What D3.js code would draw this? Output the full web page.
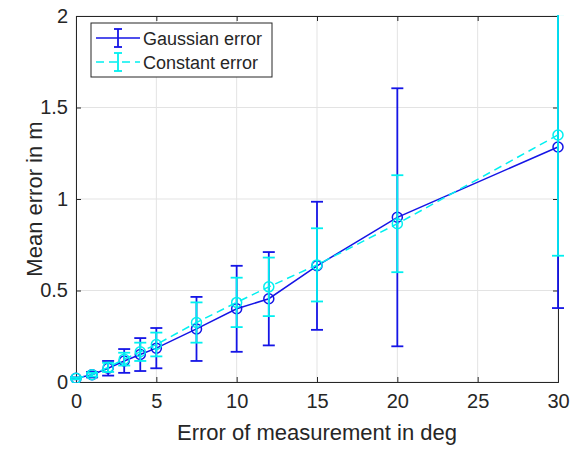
<!DOCTYPE html>
<html>
<head>
<meta charset="utf-8">
<script src="https://cdn.jsdelivr.net/npm/d3@7"></script>
<style>
  body { margin: 0; background: #fff; }
  text { font-family: "Liberation Sans", Arial, sans-serif; fill: #262626; }
</style>
</head>
<body>
<div id="chart"></div>
<script>
// measurement error (deg)
var errDeg = [0, 1, 2, 3, 4, 5, 7.5, 10, 12, 15, 20, 30];

// Gaussian error: mean and half-width of the error bar
var gaussMean = [0.02, 0.04, 0.075, 0.115, 0.15, 0.185, 0.29, 0.40, 0.455, 0.635, 0.90, 1.284];
var gaussErr  = [0.005, 0.015, 0.04, 0.065, 0.09, 0.11, 0.175, 0.235, 0.255, 0.35, 0.705, 0.88];

// Constant error
var constMean = [0.02, 0.04, 0.08, 0.125, 0.165, 0.205, 0.325, 0.435, 0.52, 0.64, 0.865, 1.35];
var constErr  = [0.005, 0.01, 0.025, 0.035, 0.05, 0.065, 0.11, 0.135, 0.16, 0.2, 0.265, 0.66];

var xTicks = [0, 5, 10, 15, 20, 25, 30];
var yTicks = [0, 0.5, 1, 1.5, 2];

let margin = {top: 16, right: 12, bottom: 70, left: 76},
    width = 570 - margin.left - margin.right,
    height = 452 - margin.top - margin.bottom;

let svg = d3.select("#chart").append("svg")
    .attr("width", 570)
    .attr("height", 452);

let g = svg.append("g")
    .attr("transform", "translate(" + margin.left + "," + margin.top + ")");

let x = d3.scaleLinear().domain([0, 30]).range([0, width]);
let y = d3.scaleLinear().domain([0, 2]).range([height, 0]);

// grid
g.append("g").selectAll("line").data(xTicks).enter().append("line")
    .attr("x1", d => x(d)).attr("x2", d => x(d))
    .attr("y1", 0).attr("y2", height)
    .attr("stroke", "#e3e3e3").attr("stroke-width", 1);
g.append("g").selectAll("line").data(yTicks).enter().append("line")
    .attr("y1", d => y(d)).attr("y2", d => y(d))
    .attr("x1", 0).attr("x2", width)
    .attr("stroke", "#e3e3e3").attr("stroke-width", 1);

// axes (ticks inward, box on)
let xAxis = d3.axisBottom(x).tickValues(xTicks).tickSize(-5).tickPadding(12).tickFormat(d3.format("~g"));
let yAxis = d3.axisLeft(y).tickValues(yTicks).tickSize(-5).tickPadding(8).tickFormat(d3.format("~g"));

let xg = g.append("g").attr("transform", "translate(0," + height + ")").call(xAxis);
let yg = g.append("g").call(yAxis);
let xgTop = g.append("g").call(d3.axisTop(x).tickValues(xTicks).tickSize(-5).tickFormat(""));
let ygRight = g.append("g").attr("transform", "translate(" + width + ",0)")
    .call(d3.axisRight(y).tickValues(yTicks).tickSize(-5).tickFormat(""));

[xg, yg, xgTop, ygRight].forEach(a => {
    a.select(".domain").attr("stroke", "#262626").attr("stroke-width", 1);
    a.selectAll(".tick line").attr("stroke", "#262626");
    a.selectAll("text").style("font-size", "20px").attr("fill", "#262626")
        .style("font-family", "'Liberation Sans', Arial, sans-serif");
});

let clip = g.append("clipPath").attr("id", "clip").append("rect")
    .attr("x", -8).attr("y", -1).attr("width", width + 16).attr("height", height + 2);

let plot = g.append("g").attr("clip-path", "url(#clip)");

function drawSeries(means, errs, color, dash) {
    let data = errDeg.map((d, i) => ({x: d, m: means[i], e: errs[i]}));
    let line = d3.line().x(d => x(d.x)).y(d => y(d.m));
    plot.append("path").datum(data)
        .attr("d", line)
        .attr("fill", "none")
        .attr("stroke", color)
        .attr("stroke-width", 1.5)
        .attr("stroke-dasharray", dash);
    let bars = plot.append("g").selectAll("g").data(data).enter().append("g")
        .attr("stroke", color).attr("stroke-width", 1.8);
    bars.append("line")
        .attr("x1", d => x(d.x)).attr("x2", d => x(d.x))
        .attr("y1", d => y(d.m - d.e)).attr("y2", d => y(d.m + d.e));
    bars.append("line")
        .attr("x1", d => x(d.x) - 6).attr("x2", d => x(d.x) + 6)
        .attr("y1", d => y(d.m + d.e)).attr("y2", d => y(d.m + d.e));
    bars.append("line")
        .attr("x1", d => x(d.x) - 6).attr("x2", d => x(d.x) + 6)
        .attr("y1", d => y(d.m - d.e)).attr("y2", d => y(d.m - d.e));
    plot.append("g").selectAll("circle").data(data).enter().append("circle")
        .attr("cx", d => x(d.x)).attr("cy", d => y(d.m)).attr("r", 5)
        .attr("fill", "none").attr("stroke", color).attr("stroke-width", 1.5);
}

drawSeries(gaussMean, gaussErr, "#1515e6", null);
drawSeries(constMean, constErr, "#00f0f0", "8,5");

// axis labels
svg.append("text")
    .attr("x", margin.left + width / 2).attr("y", 440)
    .attr("text-anchor", "middle")
    .style("font-size", "22px")
    .text("Error of measurement in deg");

svg.append("text")
    .attr("transform", "translate(42," + (margin.top + height / 2) + ") rotate(-90)")
    .attr("text-anchor", "middle")
    .style("font-size", "22px")
    .text("Mean error in m");

// legend
let leg = svg.append("g").attr("transform", "translate(91,23)");
leg.append("rect").attr("width", 181).attr("height", 54)
    .attr("fill", "#fff").attr("stroke", "#262626").attr("stroke-width", 1);
let legItems = [
    {name: "Gaussian error", color: "#1515e6", dash: null, yy: 15},
    {name: "Constant error", color: "#00f0f0", dash: "8,5", yy: 39}
];
legItems.forEach(it => {
    leg.append("line").attr("x1", 5).attr("x2", 49).attr("y1", it.yy).attr("y2", it.yy)
        .attr("stroke", it.color).attr("stroke-width", 1.5).attr("stroke-dasharray", it.dash);
    leg.append("line").attr("x1", 27).attr("x2", 27).attr("y1", it.yy - 9).attr("y2", it.yy + 9)
        .attr("stroke", it.color).attr("stroke-width", 1.8);
    leg.append("line").attr("x1", 23).attr("x2", 31).attr("y1", it.yy - 9).attr("y2", it.yy - 9)
        .attr("stroke", it.color).attr("stroke-width", 1.8);
    leg.append("line").attr("x1", 23).attr("x2", 31).attr("y1", it.yy + 9).attr("y2", it.yy + 9)
        .attr("stroke", it.color).attr("stroke-width", 1.8);
    leg.append("text").attr("x", 52).attr("y", it.yy + 6.5)
        .style("font-size", "18px").text(it.name);
});
</script>
</body>
</html>
